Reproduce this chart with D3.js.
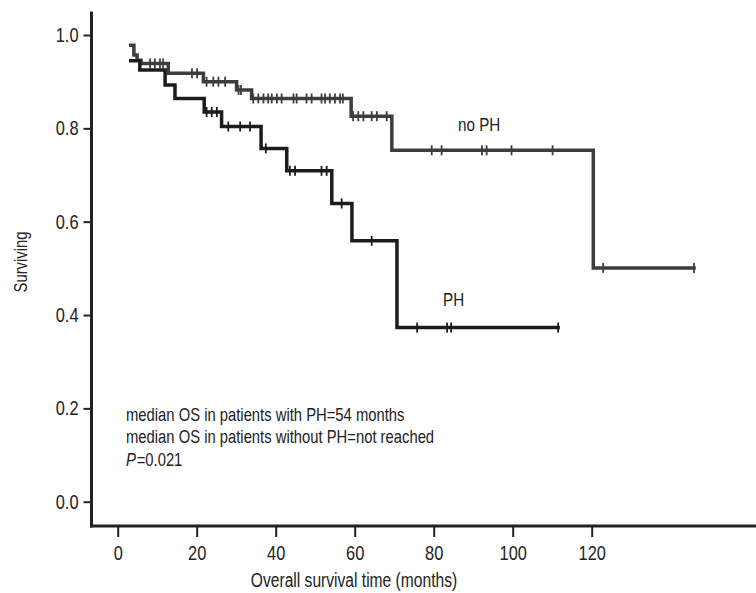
<!DOCTYPE html>
<html>
<head>
<meta charset="utf-8">
<script src="https://cdn.jsdelivr.net/npm/d3@7"></script>
<style>
  body { margin: 0; background: #fff; }
  text { font-family: "Liberation Sans", Arial, sans-serif; fill: #222; }
</style>
</head>
<body>
<svg id="chart" width="756" height="593"></svg>
<script>
// Kaplan-Meier steps (months, survival)
const noPhTimes = [3.3, 4.1, 4.9, 5.9, 12.8, 21.7, 30.1, 33.9, 59.1, 69.4, 120.4]
const noPhSurv = [0.978, 0.957, 0.946, 0.939, 0.918, 0.900, 0.882, 0.864, 0.826, 0.753, 0.501]
const noPhEnd = 145.9
const noPhCensor = [8.2, 9.4, 10.7, 11.5, 18.8, 20.1, 22.5, 24.2, 25.5, 27.2, 30.6, 31.2,
  34.3, 35.6, 36.9, 38.1, 39.0, 40.3, 41.5, 44.5, 45.3, 47.8, 49.1, 51.6, 52.5, 53.7, 55.0, 56.3, 57.0,
  59.6, 60.9, 62.2, 64.3, 65.6, 68.1, 79.5, 82.0, 92.2, 93.4, 99.7, 110.1, 122.9, 145.9]

const phTimes = [3.3, 5.6, 12.0, 14.5, 21.9, 26.3, 36.3, 42.8, 54.2, 59.3, 70.7]
const phSurv = [0.945, 0.925, 0.893, 0.864, 0.835, 0.804, 0.757, 0.709, 0.639, 0.559, 0.373]
const phEnd = 111.5
const phCensor = [22.5, 23.8, 25.1, 28.0, 31.0, 33.5, 37.5, 43.6, 44.9, 51.6, 52.9, 56.7,
  64.3, 75.8, 83.4, 84.4, 111.5]

const xTicks = [0, 20, 40, 60, 80, 100, 120]
const yTicks = [0, 0.2, 0.4, 0.6, 0.8, 1.0]

const notes = ['median OS in patients with PH=54 months', 'median OS in patients without PH=not reached']

const svg = d3.select('#chart')
const W = 756, H = 593
const squeeze = 0.8

// the original uses a condensed face; squeeze a label horizontally
const condense = (sel) => sel.each(function () {
  const len = this.getComputedTextLength()
  d3.select(this).attr('textLength', len * squeeze).attr('lengthAdjust', 'spacingAndGlyphs')
})

const x = d3.scaleLinear().domain([0, 120]).range([117.7, 591.7])
const y = d3.scaleLinear().domain([0, 1]).range([501.7, 35])

const axisX = 91.5, axisY = 526

// axes lines
svg.append('line')
  .attr('x1', axisX).attr('x2', axisX).attr('y1', 11.5).attr('y2', axisY + 1.5)
  .attr('stroke', '#222').attr('stroke-width', 3)
svg.append('line')
  .attr('x1', axisX - 1.5).attr('x2', W).attr('y1', axisY).attr('y2', axisY)
  .attr('stroke', '#222').attr('stroke-width', 3)

const bottomAxis = d3.axisBottom(x).tickValues(xTicks).tickSize(10).tickPadding(8)
const gx = svg.append('g').attr('transform', `translate(0, ${axisY + 1})`).call(bottomAxis)
gx.select('.domain').remove()
gx.selectAll('.tick line').attr('stroke', '#222').attr('stroke-width', 2)
gx.selectAll('.tick text').attr('font-size', 20.5).attr('fill', '#222')
  .style('font-family', '"Liberation Sans", Arial, sans-serif')

const leftAxis = d3.axisLeft(y).tickValues(yTicks).tickFormat(d3.format('.1f')).tickSize(7).tickPadding(5)
const gy = svg.append('g').attr('transform', `translate(${axisX - 1}, 0)`).call(leftAxis)
gy.select('.domain').remove()
gy.selectAll('.tick line').attr('stroke', '#222').attr('stroke-width', 2)
gy.selectAll('.tick text').attr('font-size', 20.5).attr('fill', '#222')
  .style('font-family', '"Liberation Sans", Arial, sans-serif')

// survival curves
const stepLine = d3.line()
  .x(d => x(d[0]))
  .y(d => y(d[1]))
  .curve(d3.curveStepAfter)

const survAt = (times, surv, t) => {
  const i = d3.bisectRight(times, t) - 1
  return surv[Math.max(0, i)]
}

const drawCurve = (times, surv, end, censor, colour) => {
  const pts = times.map((t, i) => [t, surv[i]])
  pts.push([end, surv[surv.length - 1]])
  svg.append('path')
    .datum(pts)
    .attr('d', stepLine)
    .attr('fill', 'none')
    .attr('stroke', colour)
    .attr('stroke-width', 3.5)
    .attr('stroke-linejoin', 'miter')
    .attr('stroke-linecap', 'square')

  svg.append('g')
    .selectAll('line')
    .data(censor)
    .enter()
    .append('line')
    .attr('x1', d => x(d)).attr('x2', d => x(d))
    .attr('y1', d => y(survAt(times, surv, d)) - 5)
    .attr('y2', d => y(survAt(times, surv, d)) + 5)
    .attr('stroke', colour)
    .attr('stroke-width', 1.8)
}

drawCurve(noPhTimes, noPhSurv, noPhEnd, noPhCensor, '#3d3d3d')
drawCurve(phTimes, phSurv, phEnd, phCensor, '#1c1c1c')

// labels
svg.append('text').attr('x', 458).attr('y', 131).attr('font-size', 19).text('no PH')
svg.append('text').attr('x', 443).attr('y', 306).attr('font-size', 19).text('PH')

svg.append('g')
  .selectAll('text')
  .data(notes)
  .enter()
  .append('text')
  .attr('x', 126)
  .attr('y', (d, i) => 421 + i * 22)
  .attr('font-size', 18.5)
  .text(d => d)

svg.append('text')
  .attr('x', 354).attr('y', 587)
  .attr('text-anchor', 'middle')
  .attr('font-size', 19.5)
  .text('Overall survival time (months)')

svg.append('text')
  .attr('transform', 'translate(27, 262) rotate(-90)')
  .attr('text-anchor', 'middle')
  .attr('font-size', 18.5)
  .text('Surviving')

condense(svg.selectAll('text'))

// P value: italic P then the rest, squeezed together by a group transform
const pGroup = svg.append('g').attr('transform', `translate(126, 466) scale(${squeeze}, 1)`)
const pItalic = pGroup.append('text').attr('x', 0).attr('y', 0).attr('font-size', 18.5)
  .attr('font-style', 'italic').text('P')
const pWidth = pItalic.node().getComputedTextLength()
pGroup.append('text').attr('x', pWidth + 1).attr('y', 0).attr('font-size', 18.5)
  .text('=0.021')
</script>
</body>
</html>
